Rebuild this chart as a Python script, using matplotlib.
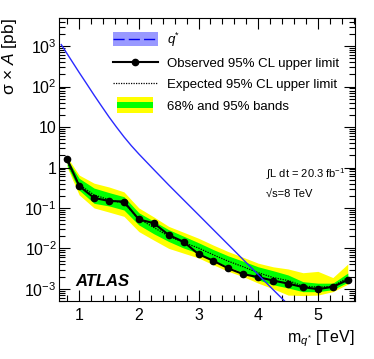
import matplotlib
matplotlib.use("Agg")
import matplotlib.pyplot as plt
from matplotlib.lines import Line2D
from matplotlib.patches import Patch, Rectangle
from matplotlib.legend_handler import HandlerBase
from matplotlib.ticker import FixedLocator, MultipleLocator, LogLocator, NullFormatter

plt.rcParams['font.family'] = ['Liberation Sans', 'DejaVu Sans']
plt.rcParams['mathtext.fontset'] = 'custom'
plt.rcParams['mathtext.rm'] = 'Liberation Sans'
plt.rcParams['mathtext.it'] = 'Liberation Sans:italic'
plt.rcParams['mathtext.bf'] = 'Liberation Sans:bold'

# limits, TeV
mass = [0.8, 1.0, 1.25, 1.5, 1.75, 2.0, 2.25, 2.5, 2.75, 3.0,
        3.25, 3.5, 3.75, 4.0, 4.25, 4.5, 4.75, 5.0, 5.25, 5.5]
observed = [1.6, 0.35, 0.177, 0.149, 0.144, 0.052, 0.042, 0.0215, 0.0145, 0.0072,
            0.0049, 0.0032, 0.0023, 0.00195, 0.0016, 0.00135, 0.0011, 0.00098, 0.00112, 0.00166]
expected = [1.35, 0.38, 0.21, 0.16, 0.13, 0.054, 0.033, 0.020, 0.014, 0.0102,
            0.0069, 0.0048, 0.0035, 0.0025, 0.0019, 0.0016, 0.00117, 0.0011, 0.00115, 0.0019]
green_hi = [1.6, 0.54, 0.31, 0.24, 0.19, 0.076, 0.047, 0.029, 0.020, 0.0138,
            0.0093, 0.0065, 0.0048, 0.0035, 0.0028, 0.0022, 0.0015, 0.00138, 0.00138, 0.00245]
green_lo = [1.1, 0.275, 0.13, 0.112, 0.089, 0.038, 0.023, 0.0148, 0.0102, 0.0076,
            0.005, 0.0035, 0.0025, 0.00166, 0.00126, 0.00105, 0.00085, 0.00085, 0.00095, 0.00145]
yellow_hi = [1.8, 0.65, 0.41, 0.33, 0.25, 0.10, 0.06, 0.035, 0.025, 0.0178,
             0.012, 0.0083, 0.006, 0.0043, 0.0035, 0.0031, 0.0025, 0.0027, 0.0019, 0.0041]
yellow_lo = [1.0, 0.21, 0.10, 0.079, 0.062, 0.026, 0.016, 0.010, 0.0076, 0.0058,
             0.0039, 0.0027, 0.002, 0.00138, 0.001, 0.0007, 0.00068, 0.0007, 0.00085, 0.0013]

# excited quark theory curve
qstar_mass = [0.7, 0.85, 1.0, 1.125, 1.25, 1.375, 1.5, 1.625, 1.75, 1.875, 2.0, 2.25, 2.5, 2.75, 3.0,
              3.25, 3.5, 3.75, 4.0, 4.25, 4.5]
qstar_xsec = [1096, 495, 224, 118, 61.7, 33.0, 17.8, 10.0, 5.75, 3.45, 2.16, 0.89, 0.37, 0.158, 0.0676,
              0.0288, 0.0123, 0.00525, 0.00224, 0.00095, 0.00041]

ytick_vals = [1e-3, 1e-2, 1e-1, 1, 10, 100, 1000]
ytick_text = [r'$\mathregular{10^{-3}}$', r'$\mathregular{10^{-2}}$', r'$\mathregular{10^{-1}}$',
              '1', '10', r'$\mathregular{10^{2}}$', r'$\mathregular{10^{3}}$']


class BandHandler(HandlerBase):
    def create_artists(self, legend, orig_handle, xdescent, ydescent,
                       width, height, fontsize, trans):
        w = width * 0.8
        x0 = -xdescent + (width - w) / 2
        outer = Rectangle((x0, -ydescent - height * 0.1), w, height * 1.2,
                          fc='#ffff00', ec='none', transform=trans)
        inner = Rectangle((x0, -ydescent + height * 0.25), w, height * 0.5,
                          fc='#00ff00', ec='none', transform=trans)
        return [outer, inner]


class QstarHandler(HandlerBase):
    def create_artists(self, legend, orig_handle, xdescent, ydescent,
                       width, height, fontsize, trans):
        band = Rectangle((-xdescent, -ydescent - height * 0.05), width, height * 1.1,
                         fc='#9999ff', ec='none', transform=trans)
        y = -ydescent + height / 2
        line = Line2D([-xdescent, -xdescent + width], [y, y], color='#0000ee',
                      lw=1.0, dashes=(8, 3), transform=trans)
        return [band, line]


fig = plt.figure(figsize=(3.74, 3.59), dpi=100)
ax = fig.add_axes([0.159, 0.1616, 0.79, 0.7884])

ax.fill_between(mass, yellow_lo, yellow_hi, color='#ffff00', lw=0)
ax.fill_between(mass, green_lo, green_hi, color='#00ff00', lw=0)
ax.plot(mass, expected, color='black', lw=0.9, ls=(0, (1, 1)))
ax.plot(mass, observed, color='black', lw=1.5, marker='o', markersize=4.5)
ax.plot(qstar_mass, qstar_xsec, color='#2a2aff', lw=1.0)

ax.set_yscale('log')
ax.set_ylim(5e-4, 5e3)
ax.set_xlim(0.67, 5.62)

ax.yaxis.set_major_locator(FixedLocator(ytick_vals))
ax.set_yticklabels(ytick_text)
ax.yaxis.set_minor_locator(LogLocator(base=10, subs=range(2, 10), numticks=20))
ax.yaxis.set_minor_formatter(NullFormatter())
ax.xaxis.set_major_locator(MultipleLocator(1))
ax.xaxis.set_minor_locator(MultipleLocator(0.2))

ax.tick_params(which='both', direction='in', top=True, right=True, labelsize=11.5)
ax.tick_params(which='major', length=8, width=0.8)
ax.tick_params(which='minor', length=4, width=0.8)
ax.tick_params(axis='y', pad=2)
ax.tick_params(axis='x', pad=5)

ax.set_ylabel('\u03c3 \u00d7 $\\mathit{A}$ [pb]', fontsize=12.5, loc='top')
ax.set_xlabel(r'm$_{q^{*}}$ [TeV]', fontsize=11.5, loc='right')

handles = [Patch(), Line2D([], [], color='black', lw=1.5, marker='o', markersize=4.5),
           Line2D([], [], color='black', lw=0.9, ls=(0, (1, 1))), Patch()]
labels = [r'$q^{*}$', 'Observed 95% CL upper limit',
          'Expected 95% CL upper limit', '68% and 95% bands']
ax.legend(handles, labels, loc='upper left', bbox_to_anchor=(0.18, 0.955),
          frameon=False, fontsize=9.5, handlelength=3.4, handleheight=1.1,
          handletextpad=0.7, labelspacing=0.56, borderpad=0, borderaxespad=0,
          handler_map={handles[0]: QstarHandler(), handles[3]: BandHandler()})

ax.text(0.7, 0.45, '\u222bL dt = 20.3 fb$^{\\mathregular{-1}}$', transform=ax.transAxes,
        fontsize=8, va='center')
ax.text(0.7, 0.378, '\u221as=8 TeV', transform=ax.transAxes, fontsize=8, va='center')
ax.text(0.055, 0.07, 'ATLAS', transform=ax.transAxes, fontsize=12,
        fontweight='bold', fontstyle='italic', va='center')

fig.savefig('out.png', dpi=100)
